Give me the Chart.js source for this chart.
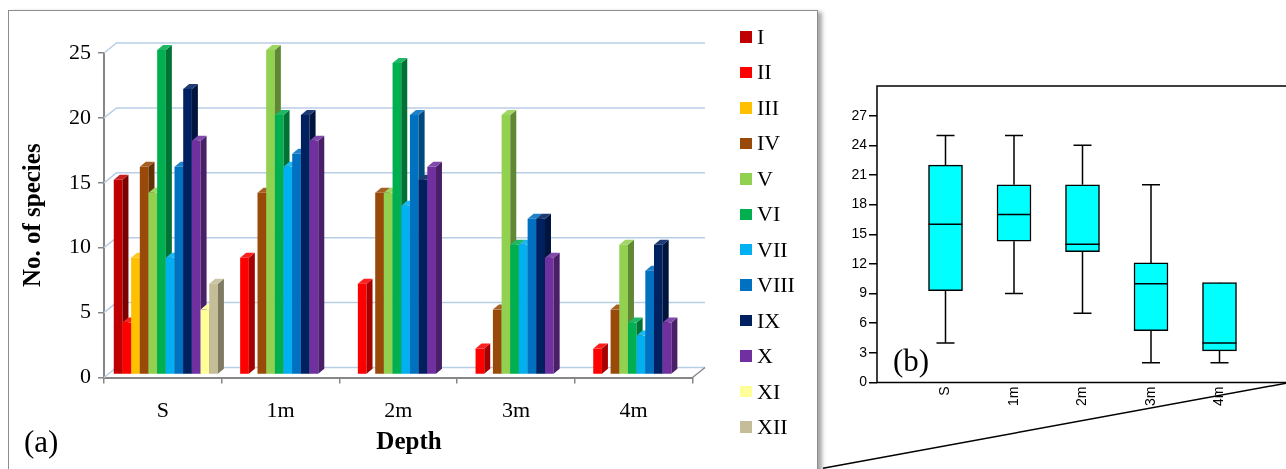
<!DOCTYPE html>
<html>
<head>
<meta charset="utf-8">
<script src="https://cdn.jsdelivr.net/npm/chart.js@4.4.1/dist/chart.umd.min.js"></script>
<style>
  html, body { margin:0; padding:0; background:#fff; }
  body { position:relative; width:1286px; height:469px; overflow:hidden; font-family:'Liberation Serif', serif; }
  #frameA { position:absolute; left:8px; top:10px; width:810px; height:520px; box-sizing:border-box;
            border:1.5px solid #8c8c8c; box-shadow:4px 2px 4px rgba(0,0,0,0.35); background:#fff; }
  #link { position:absolute; left:0; top:0; }
  #chartA { position:absolute; left:0; top:0; }
  #chartB { position:absolute; left:826px; top:0; }
  #legendA { position:absolute; left:740px; top:0; }
  .lg { position:absolute; left:0; height:24px; display:flex; align-items:center; white-space:nowrap;
        font-family:'Liberation Serif', serif; font-size:22px; line-height:24px; color:#000; }
  .lg i { display:inline-block; width:11.5px; height:11.5px; margin-right:5.5px; }
  .tag { position:absolute; font-family:'Liberation Serif', serif; font-size:31px; line-height:31px; color:#000; }
</style>
</head>
<body>
<div id="frameA"></div>
<svg id="link" width="1286" height="469"><line x1="823" y1="468.2" x2="1296" y2="381.4" stroke="#000" stroke-width="1.5"/></svg>
<canvas id="chartA" width="818" height="469"></canvas>
<canvas id="chartB" width="470" height="469"></canvas>
<div id="legendA"></div>
<div class="tag" style="left:24px;top:426px">(a)</div>
<div class="tag" style="left:893px;top:345px">(b)</div>
<script>
// ---- data: species count per group at each depth ----
const depths = ['S', '1m', '2m', '3m', '4m'];
const groups = ['I', 'II', 'III', 'IV', 'V', 'VI', 'VII', 'VIII', 'IX', 'X', 'XI', 'XII'];
const gI    = [15, 0, 0, 0, 0];
const gII   = [4, 9, 7, 2, 2];
const gIII  = [9, 0, 0, 0, 0];
const gIV   = [16, 14, 14, 5, 5];
const gV    = [14, 25, 14, 20, 10];
const gVI   = [25, 20, 24, 10, 4];
const gVII  = [9, 16, 13, 10, 3];
const gVIII = [16, 17, 20, 12, 8];
const gIX   = [22, 20, 15, 12, 10];
const gX    = [18, 18, 16, 9, 4];
const gXI   = [5, 0, 0, 0, 0];
const gXII  = [7, 0, 0, 0, 0];
const yTicksA = [0, 5, 10, 15, 20, 25];

// ---- box plot summary per depth ----
const boxMin = [4, 9, 7, 2, 2];
const boxQ1  = [9.3, 14.3, 13.25, 5.25, 3.2];
const boxMed = [16, 17, 14, 10, 4];
const boxQ3  = [22, 20, 20, 12.1, 10.1];
const boxMax = [25, 25, 24, 20, 10];
const yTicksB = [0, 3, 6, 9, 12, 15, 18, 21, 24, 27];

const seriesValues = [gI, gII, gIII, gIV, gV, gVI, gVII, gVIII, gIX, gX, gXI, gXII];
const groupColors = ['#C00000', '#FF0000', '#FFC000', '#9A4A08', '#92D050', '#00B050',
                     '#00B0F0', '#0070C0', '#002060', '#7030A0', '#FFFF99', '#C4BD97'];

// 3D geometry of the column chart
const SX = 3, SY = -3;      // bar front-face offset
const DX = 6, DY = -5;      // bar depth
const WX = 12.5, WY = -10;  // wall depth

function tint(hex, f) {
  const n = parseInt(hex.slice(1), 16);
  let c = [n >> 16, (n >> 8) & 255, n & 255];
  c = c.map(v => f < 0 ? Math.round(v * (1 + f)) : Math.round(v + (255 - v) * f));
  return 'rgb(' + c.join(',') + ')';
}

const serif = 'Liberation Serif';

// back wall, floor and 3D columns
const columns3d = {
  id: 'columns3d',
  beforeDatasetsDraw(chart) {
    const { ctx, chartArea: a, scales: { y } } = chart;
    ctx.save();
    ctx.lineWidth = 1.5;
    ctx.strokeStyle = '#b9cde5';
    y.ticks.forEach(t => {
      const py = y.getPixelForValue(t.value);
      ctx.beginPath();
      ctx.moveTo(a.left, py);
      ctx.lineTo(a.left + WX, py + WY);
      ctx.lineTo(a.right + WX, py + WY);
      ctx.stroke();
    });
    const y0 = y.getPixelForValue(0);
    ctx.strokeStyle = '#868686';
    ctx.beginPath();
    ctx.moveTo(a.right, y0);
    ctx.lineTo(a.right + WX, y0 + WY);
    ctx.stroke();

    chart.data.datasets.forEach((ds, di) => {
      const meta = chart.getDatasetMeta(di);
      const col = ds.backgroundColor;
      meta.data.forEach((el, j) => {
        if (!ds.data[j]) return;
        const p = el.getProps(['x', 'y', 'base', 'width'], true);
        const L = p.x - p.width / 2 + SX, R = p.x + p.width / 2 + SX;
        const T = p.y + SY, B = p.base + SY;
        ctx.fillStyle = col;
        ctx.fillRect(L, T, R - L, B - T);
        ctx.fillStyle = tint(col, -0.35);
        ctx.beginPath();
        ctx.moveTo(R, T); ctx.lineTo(R + DX, T + DY); ctx.lineTo(R + DX, B + DY); ctx.lineTo(R, B);
        ctx.closePath(); ctx.fill();
        ctx.fillStyle = tint(col, 0.12);
        ctx.beginPath();
        ctx.moveTo(L, T); ctx.lineTo(L + DX, T + DY); ctx.lineTo(R + DX, T + DY); ctx.lineTo(R, T);
        ctx.closePath(); ctx.fill();
      });
    });
    ctx.restore();
    return false;
  }
};

new Chart(document.getElementById('chartA'), {
  type: 'bar',
  data: {
    labels: depths,
    datasets: groups.map((g, i) => ({ label: g, data: seriesValues[i], backgroundColor: groupColors[i] }))
  },
  options: {
    responsive: false,
    animation: false,
    layout: { padding: { top: 53, right: 0, left: 0, bottom: 0 } },
    datasets: { bar: { categoryPercentage: 0.885, barPercentage: 1 } },
    plugins: {
      legend: { display: false },
      tooltip: { enabled: false },
      title: {
        display: true, position: 'bottom', text: 'Depth', color: '#000',
        font: { family: serif, size: 25, weight: 'bold' },
        padding: { top: 0, bottom: 11 }
      }
    },
    scales: {
      x: {
        grid: { drawOnChartArea: false, tickLength: 6, color: '#868686', lineWidth: 1.5, offset: true },
        border: { color: '#868686', width: 2 },
        ticks: { color: '#000', padding: 15, font: { family: serif, size: 22 } },
        afterFit: s => { s.height = 50.5; }
      },
      y: {
        min: 0, max: 25,
        afterBuildTicks: s => { s.ticks = yTicksA.map(v => ({ value: v })); },
        grid: { drawOnChartArea: false, tickLength: 6, color: '#868686', lineWidth: 1.5 },
        border: { color: '#868686', width: 2 },
        ticks: { color: '#000', padding: 7, font: { family: serif, size: 22 } },
        title: {
          display: true, text: 'No. of species', color: '#000',
          font: { family: serif, size: 25, weight: 'bold' },
          padding: { top: 19, bottom: 0 }
        },
        afterFit: s => { s.width = 104; }
      },
      side: {
        type: 'linear', position: 'right', display: true,
        grid: { display: false, drawTicks: false },
        border: { display: false },
        ticks: { display: false },
        afterFit: s => { s.width = 125.5; }
      }
    }
  },
  plugins: [columns3d]
});

// legend of groups
const legend = document.getElementById('legendA');
groups.forEach((g, i) => {
  const row = document.createElement('div');
  row.className = 'lg';
  row.style.top = (37 + i * 35.45 - 12) + 'px';
  const sw = document.createElement('i');
  sw.style.background = groupColors[i];
  row.appendChild(sw);
  row.appendChild(document.createTextNode(g));
  legend.appendChild(row);
});

// whiskers, medians and frame of the box plot
const boxParts = {
  id: 'boxParts',
  beforeDatasetsDraw(chart) {
    const { ctx, scales: { x, y } } = chart;
    ctx.save();
    ctx.strokeStyle = '#000';
    ctx.lineWidth = 1.5;
    depths.forEach((d, i) => {
      const cx = x.getPixelForValue(i);
      const cap = 9;
      ctx.beginPath();
      ctx.moveTo(cx, y.getPixelForValue(boxMax[i])); ctx.lineTo(cx, y.getPixelForValue(boxQ3[i]));
      ctx.moveTo(cx, y.getPixelForValue(boxMin[i])); ctx.lineTo(cx, y.getPixelForValue(boxQ1[i]));
      ctx.moveTo(cx - cap, y.getPixelForValue(boxMax[i])); ctx.lineTo(cx + cap, y.getPixelForValue(boxMax[i]));
      ctx.moveTo(cx - cap, y.getPixelForValue(boxMin[i])); ctx.lineTo(cx + cap, y.getPixelForValue(boxMin[i]));
      ctx.stroke();
    });
    ctx.restore();
  },
  afterDatasetsDraw(chart) {
    const { ctx, scales: { y } } = chart;
    const meta = chart.getDatasetMeta(0);
    ctx.save();
    ctx.strokeStyle = '#000';
    ctx.lineWidth = 1.5;
    meta.data.forEach((el, i) => {
      const p = el.getProps(['x', 'width'], true);
      const my = y.getPixelForValue(boxMed[i]);
      ctx.beginPath();
      ctx.moveTo(p.x - p.width / 2, my); ctx.lineTo(p.x + p.width / 2, my);
      ctx.stroke();
    });
    ctx.restore();
  },
  afterDraw(chart) {
    const { ctx, chartArea: a } = chart;
    ctx.save();
    ctx.strokeStyle = '#000';
    ctx.lineWidth = 1.5;
    ctx.strokeRect(a.left, a.top, a.right - a.left, a.bottom - a.top);
    ctx.restore();
  }
};

new Chart(document.getElementById('chartB'), {
  type: 'bar',
  data: {
    datasets: [{
      data: depths.map((d, i) => ({ x: i, y: [boxQ1[i], boxQ3[i]] })),
      backgroundColor: '#00FFFF', borderColor: '#000', borderWidth: 1.5,
      borderSkipped: false, barThickness: 34
    }]
  },
  options: {
    responsive: false,
    animation: false,
    layout: { padding: { top: 86, right: 8, left: 0, bottom: 0 } },
    plugins: { legend: { display: false }, tooltip: { enabled: false } },
    scales: {
      x: {
        type: 'linear', min: -1, max: 5, offset: false,
        afterBuildTicks: s => { s.ticks = depths.map((d, i) => ({ value: i })); },
        grid: { display: false, drawTicks: false, offset: false },
        border: { display: false },
        ticks: {
          autoSkip: false, minRotation: 90, maxRotation: 90, padding: 4, color: '#000',
          font: { family: 'Liberation Sans', size: 14 },
          callback: v => depths[v]
        },
        afterFit: s => { s.height = 86.5; }
      },
      y: {
        min: 0, max: 30,
        afterBuildTicks: s => { s.ticks = yTicksB.map(v => ({ value: v })); },
        grid: { drawOnChartArea: false, tickLength: 8, color: '#000', lineWidth: 1.5 },
        border: { display: false },
        ticks: { color: '#000', padding: 2, font: { family: 'Liberation Sans', size: 14 } },
        afterFit: s => { s.width = 51; }
      }
    }
  },
  plugins: [boxParts]
});
</script>
</body>
</html>
